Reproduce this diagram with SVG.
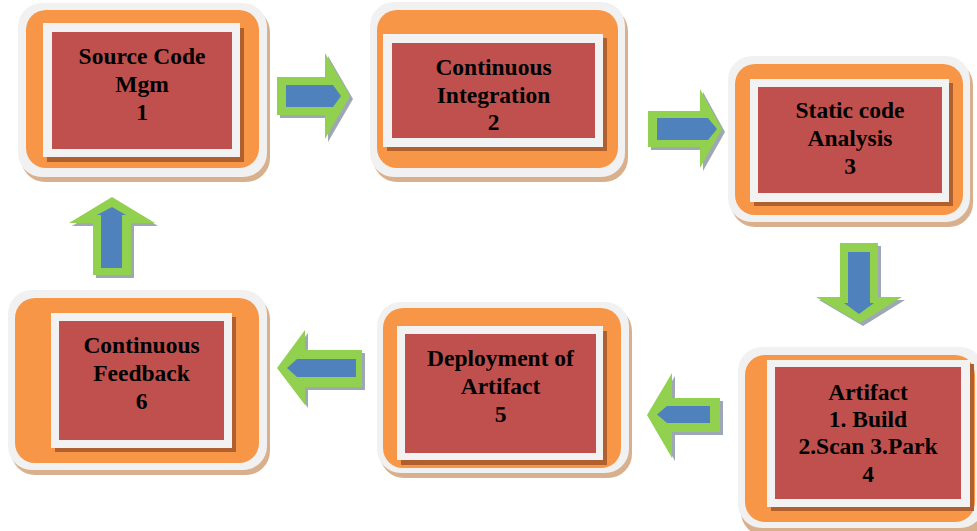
<svg xmlns="http://www.w3.org/2000/svg" width="977" height="531" viewBox="0 0 977 531">
<style>
.tan{fill:#d9b08e}
.halo{fill:#f1f1f1}
.org{fill:#f79646}
.ish{fill:#b0602f}
.wht{fill:#f2f2f2}
.red{fill:#c0504d}
.lbl{font-family:"Liberation Serif","Times New Roman",serif;font-weight:bold;font-size:23.5px;fill:#000;text-anchor:middle}
.ash{fill:#9ea7b6}
.agr{fill:#92d050}
.abl{fill:#4f81bd}
</style>
<rect width="977" height="531" fill="#ffffff"/>
<g id="connectors">
  <g id="e1-2">
    <polygon class="ash" points="280,80 328,80 328,56 353,99 328,142 328,118 280,118"/>
    <polygon class="agr" points="277,77 325,77 325,53 350,96 325,139 325,115 277,115"/>
    <polygon class="abl" points="286,85 333,85 341,96 333,107 286,107"/>
  </g>
  <g id="e2-3">
    <polygon class="ash" points="651,114 703,114 703,92 725,132 703,171 703,150 651,150"/>
    <polygon class="agr" points="648,111 700,111 700,89 722,129 700,168 700,147 648,147"/>
    <polygon class="abl" points="657,118 708,118 717,129 708,140 657,140"/>
  </g>
  <g id="e3-4">
    <polygon class="ash" points="843,246 881,246 881,300 905,300 863,326 819,300 843,300"/>
    <polygon class="agr" points="840,243 878,243 878,297 902,297 860,323 816,297 840,297"/>
    <polygon class="abl" points="848,252 870,252 870,303 874,303 859,314 844,303 848,303"/>
  </g>
  <g id="e4-5">
    <polygon class="ash" points="723,401 675,401 675,376 650,418 675,461 675,435 723,435"/>
    <polygon class="agr" points="720,398 672,398 672,373 647,415 672,458 672,432 720,432"/>
    <polygon class="abl" points="710,406 667,406 657,414.5 667,423 710,423"/>
  </g>
  <g id="e5-6">
    <polygon class="ash" points="365,353 308,353 308,333 280,371 308,408 308,390 365,390"/>
    <polygon class="agr" points="362,350 305,350 305,330 277,368 305,405 305,387 362,387"/>
    <polygon class="abl" points="356,359 297,359 287,368 297,377 356,377"/>
  </g>
  <g id="e6-1">
    <polygon class="ash" points="96,278 96,226 72,226 115,200 158,226 134,226 134,278"/>
    <polygon class="agr" points="93,275 93,223 69,223 112,197 155,223 131,223 131,275"/>
    <polygon class="abl" points="101,268 101,215 97,215 112,207 126,215 122,215 122,268"/>
  </g>
</g>
<g id="node1">
  <rect class="tan" x="21" y="8" width="249" height="174" rx="24"/>
  <rect class="halo" x="18" y="3" width="249" height="174" rx="24"/>
  <rect class="org" x="26" y="10" width="233" height="158" rx="20"/>
  <rect class="ish" x="47" y="28" width="197" height="134"/>
  <rect class="wht" x="43" y="23" width="197" height="134"/>
  <rect class="red" x="52" y="32" width="180" height="117"/>
  <text class="lbl" x="142" y="64">Source Code</text>
  <text class="lbl" x="142" y="92">Mgm</text>
  <text class="lbl" x="142" y="120">1</text>
</g>
<g id="node2">
  <rect class="tan" x="373" y="7" width="255" height="175" rx="24"/>
  <rect class="halo" x="370" y="2" width="255" height="175" rx="24"/>
  <rect class="org" x="377" y="10" width="241" height="158" rx="20"/>
  <rect class="ish" x="387" y="38" width="220" height="113"/>
  <rect class="wht" x="383" y="34" width="220" height="113"/>
  <rect class="red" x="392" y="43" width="203" height="95"/>
  <text class="lbl" x="493.5" y="75">Continuous</text>
  <text class="lbl" x="493.5" y="103">Integration</text>
  <text class="lbl" x="493.5" y="130">2</text>
</g>
<g id="node3">
  <rect class="tan" x="731" y="61" width="242" height="166" rx="24"/>
  <rect class="halo" x="728" y="56" width="242" height="166" rx="24"/>
  <rect class="org" x="735" y="64" width="228" height="151" rx="20"/>
  <rect class="ish" x="754" y="83" width="199" height="123"/>
  <rect class="wht" x="750" y="79" width="199" height="123"/>
  <rect class="red" x="758" y="87" width="184" height="106"/>
  <text class="lbl" x="850" y="118">Static code</text>
  <text class="lbl" x="850" y="146">Analysis</text>
  <text class="lbl" x="850" y="174">3</text>
</g>
<g id="node4">
  <rect class="tan" x="741" y="352" width="246" height="184" rx="24"/>
  <rect class="halo" x="738" y="347" width="246" height="181" rx="24"/>
  <rect class="org" x="745" y="355" width="230" height="167" rx="20"/>
  <rect class="ish" x="771" y="364" width="203" height="147"/>
  <rect class="wht" x="767" y="360" width="203" height="147"/>
  <rect class="red" x="775" y="367" width="186" height="132"/>
  <text class="lbl" x="868" y="400">Artifact</text>
  <text class="lbl" x="868" y="427">1. Build</text>
  <text class="lbl" x="868" y="454">2.Scan 3.Park</text>
  <text class="lbl" x="868" y="482">4</text>
</g>
<g id="node5">
  <rect class="tan" x="380" y="307" width="252" height="171" rx="24"/>
  <rect class="halo" x="377" y="302" width="252" height="171" rx="24"/>
  <rect class="org" x="383" y="308" width="238" height="160" rx="20"/>
  <rect class="ish" x="401" y="331" width="206" height="134"/>
  <rect class="wht" x="397" y="326" width="206" height="134"/>
  <rect class="red" x="405" y="334" width="191" height="119"/>
  <text class="lbl" x="500.5" y="366">Deployment of</text>
  <text class="lbl" x="500.5" y="394">Artifact</text>
  <text class="lbl" x="500.5" y="422">5</text>
</g>
<g id="node6">
  <rect class="tan" x="11" y="295" width="259" height="180" rx="24"/>
  <rect class="halo" x="8" y="290" width="259" height="180" rx="24"/>
  <rect class="org" x="15" y="298" width="244" height="165" rx="20"/>
  <rect class="ish" x="55" y="317" width="181" height="135"/>
  <rect class="wht" x="51" y="313" width="181" height="135"/>
  <rect class="red" x="59" y="321" width="165" height="119"/>
  <text class="lbl" x="141.5" y="353">Continuous</text>
  <text class="lbl" x="141.5" y="381">Feedback</text>
  <text class="lbl" x="141.5" y="409">6</text>
</g>
</svg>
